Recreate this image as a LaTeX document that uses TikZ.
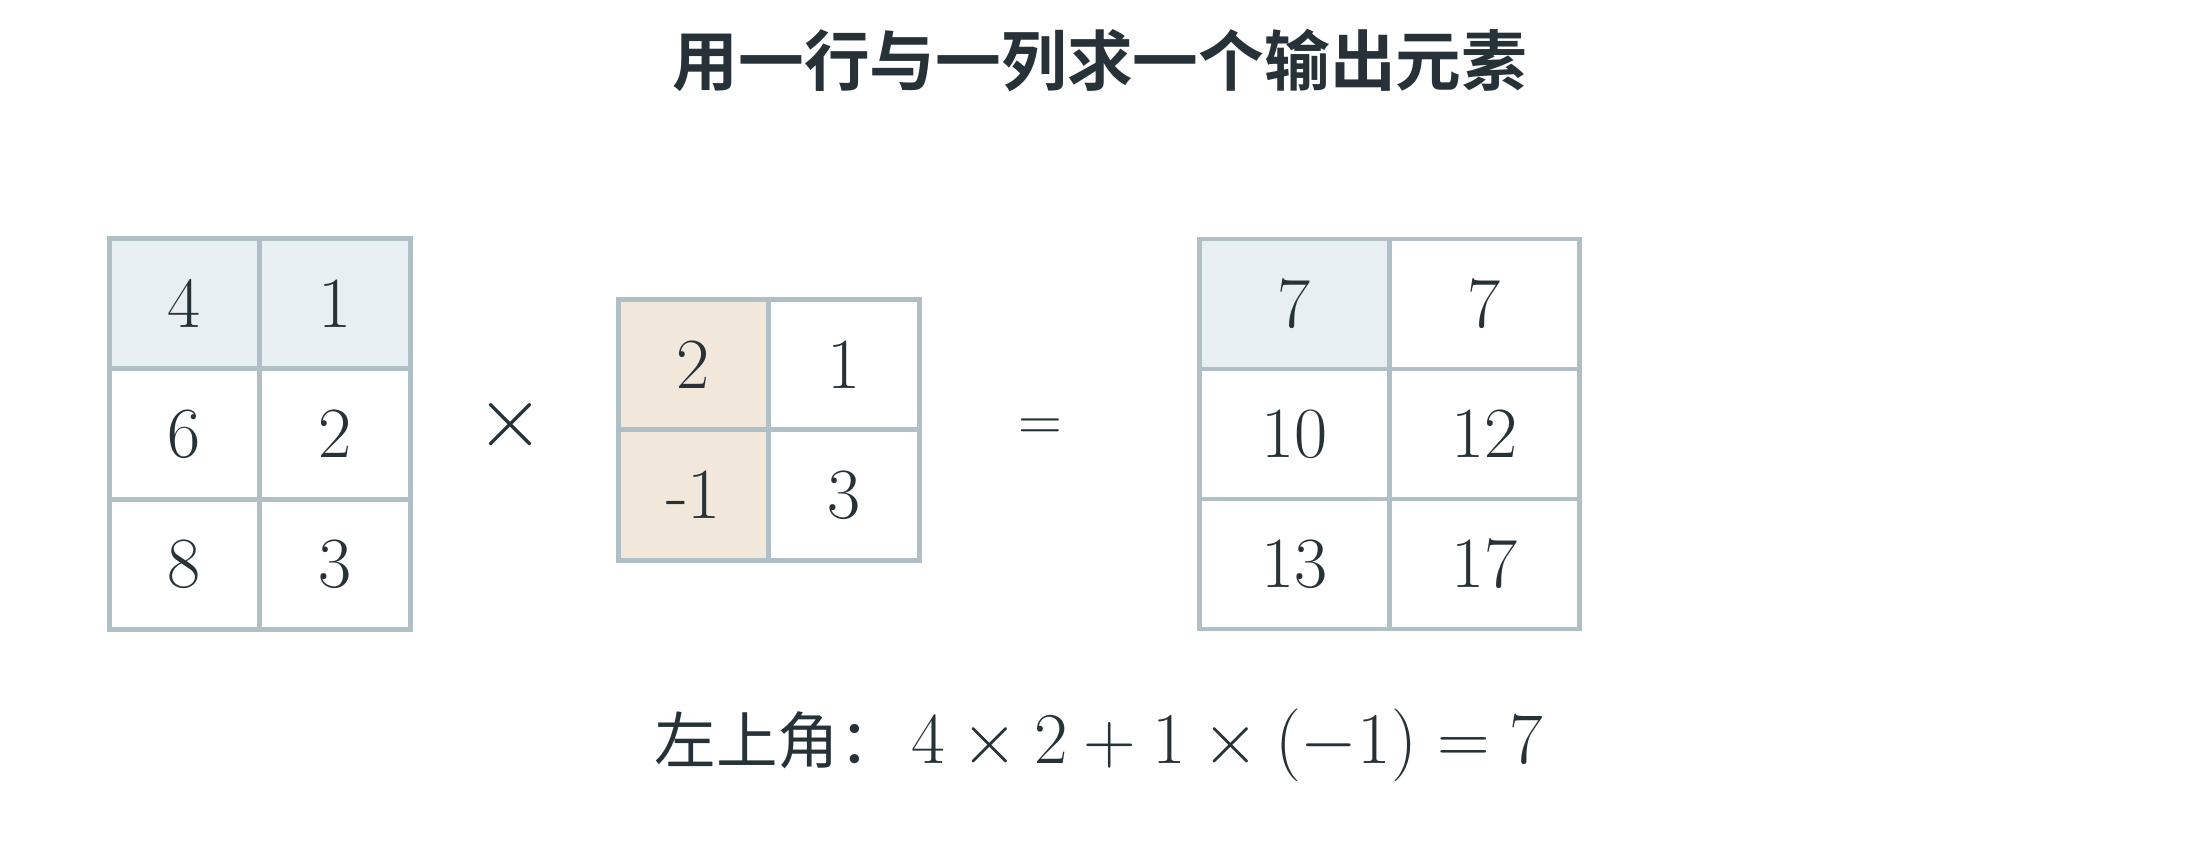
\documentclass[tikz,border=0pt]{standalone}
\usepackage{fontspec}
\newfontfamily\cjk{Noto Sans CJK SC}[BoldFont={Noto Sans CJK SC Bold}]
\definecolor{ink}{HTML}{263238}
\definecolor{gridline}{HTML}{B0BEC5}
\definecolor{rowfill}{HTML}{E8EFF2}
\definecolor{colfill}{HTML}{F1E7DB}
\tikzset{
  cell/.style={draw=gridline, line width=1.3pt, fill=white, inner sep=0pt,
    text=ink, font=\fontsize{20.5}{24}\selectfont},
  lcell/.style={cell, minimum width=1.505cm, minimum height=1.305cm},
  wcell/.style={cell, minimum width=1.9cm, minimum height=1.3cm},
  opsign/.style={text=ink, font=\fontsize{24}{28}\selectfont}
}
\begin{document}
\begin{tikzpicture}[x=1cm,y=1cm]
    \useasboundingbox (0,0) rectangle (22,-8.6);
    \node[text=ink, font=\cjk\bfseries\fontsize{18.7}{22}\selectfont] (title) at (11,-0.61) {用一行与一列求一个输出元素};
    % left matrix, 3x2
    \node[lcell] (L21) at (1.845,-4.34) {6};
    \node[lcell] (L22) at (3.35,-4.34) {2};
    \node[lcell] (L31) at (1.845,-5.645) {8};
    \node[lcell] (L32) at (3.35,-5.645) {3};
    \node[lcell, fill=rowfill] (L11) at (1.845,-3.035) {4};
    \node[lcell, fill=rowfill] (L12) at (3.35,-3.035) {1};
    \node[opsign] (times) at (5.1,-4.25) {$\times$};
    % middle matrix, 2x2
    \node[lcell] (M12) at (8.44,-3.645) {1};
    \node[lcell] (M22) at (8.44,-4.95) {3};
    \node[lcell, fill=colfill] (M11) at (6.935,-3.645) {2};
    \node[lcell, fill=colfill] (M21) at (6.935,-4.95) {-1};
    \node[opsign, font=\fontsize{19}{23}\selectfont] (equals) at (10.4,-4.3) {$=$};
    % result matrix, 3x2
    \node[wcell] (R12) at (14.845,-3.04) {7};
    \node[wcell] (R21) at (12.945,-4.34) {10};
    \node[wcell] (R22) at (14.845,-4.34) {12};
    \node[wcell] (R31) at (12.945,-5.64) {13};
    \node[wcell] (R32) at (14.845,-5.64) {17};
    \node[wcell, fill=rowfill] (R11) at (12.945,-3.04) {7};
    \node[text=ink, font=\fontsize{21}{25}\selectfont] (formula) at (10.99,-7.45)
      {{\cjk\fontsize{17.5}{21}\selectfont 左上角：}\hspace{0.15em}$4\times 2+1\times(-1)=7$};
  \end{tikzpicture}
\end{document}
